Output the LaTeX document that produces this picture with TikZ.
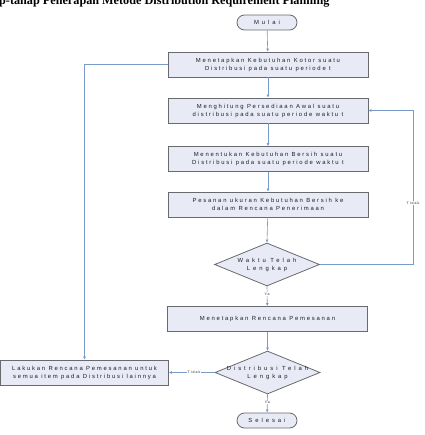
\documentclass[tikz,border=0pt]{standalone}
\usepackage{fontspec}
\setmainfont{Liberation Serif}
\newfontfamily\boxfont[LetterSpace=30]{Liberation Sans}
\newfontfamily\wideboxfont[LetterSpace=50]{Liberation Sans}
\usetikzlibrary{shapes.geometric,arrows.meta}
\definecolor{boxfill}{RGB}{232,234,245}
\definecolor{boxborder}{RGB}{105,105,110}
\definecolor{linecol}{RGB}{120,155,200}
\definecolor{textgray}{RGB}{30,30,35}
\begin{document}
\begin{tikzpicture}[x=1pt,y=-1pt,
  txt/.style={font=\boxfont\fontsize{5.9}{8}\selectfont, text=textgray, align=center},
  dtxt/.style={font=\wideboxfont\fontsize{5.9}{8}\selectfont, text=textgray, align=center},
  proc/.style={txt, draw=boxborder, fill=boxfill, line width=0.8pt, minimum width=200pt, minimum height=25pt, inner sep=0pt},
  term/.style={dtxt, draw=boxborder, fill=boxfill, line width=0.8pt, minimum width=60pt, minimum height=15pt, rounded corners=7.5pt, inner sep=0pt},
  dec/.style={diamond, draw=boxborder, fill=boxfill, line width=0.8pt, minimum width=105pt, minimum height=43pt, inner sep=0pt},
  conn/.style={draw=linecol, line width=0.6pt},
  arr/.style={conn, -{Latex[length=3pt,width=3pt]}},
  lbl/.style={font=\boxfont\fontsize{3.5}{4}\selectfont, text=textgray, fill=white, inner sep=0.6pt}
]
\useasboundingbox (0,0) rectangle (424,435);
\node[anchor=base west, inner sep=0pt, font=\bfseries\fontsize{12.2}{14}\selectfont] (title) at (-1,5) {p-tahap Penerapan Metode Distribution Requirement Planning};

\node[term] (mulai) at (267,22.5) {Mulai};
\node[proc] (b1) at (268,64.5) {Menetapkan Kebutuhan Kotor suatu\\Distribusi pada suatu periode t};
\node[proc] (b2) at (268,110.5) {Menghitung Persediaan Awal suatu\\distribusi pada suatu periode waktu t};
\node[proc] (b3) at (268,159) {Menentukan Kebutuhan Bersih suatu\\Distribusi pada suatu periode waktu t};
\node[proc] (b4) at (268,204.5) {Pesanan ukuran Kebutuhan Bersih ke\\dalam Rencana Penerimaan};
\node[dec] (d1) at (267,264.5) {};
\node[dtxt] (d1t) at (d1) {Waktu Telah\\Lengkap};
\node[proc] (b5) at (267.5,319) {Menetapkan Rencana Pemesanan};
\node[dec] (d2) at (267.5,372.5) {};
\node[dtxt] (d2t) at (d2) {Distribusi Telah\\Lengkap};
\node[proc, minimum width=168pt] (lk) at (84.5,372.5) {Lakukan Rencana Pemesanan untuk\\semua item pada Distribusi lainnya};
\node[term] (selesai) at (267,420.5) {Selesai};

\coordinate (r1) at (413,264.5);
\coordinate (r2) at (413,110.5);

\draw[arr] (mulai) -- (b1);
\draw[arr] (b1) -- (b2);
\draw[arr] (b2) -- (b3);
\draw[arr] (b3) -- (b4);
\draw[arr] (b4) -- (d1.north);
\draw[arr] (d1.south) -- node[lbl, pos=0.4] {Ya} (b5);
\draw[arr] (b5) -- (d2.north);
\draw[arr] (d2.south) -- node[lbl, pos=0.45] {Ya} (selesai);
\draw[arr] (d2.west) -- node[lbl, pos=0.45] {Tidak} (lk);
\draw[conn] (d1.east) -- (r1) -- node[lbl, pos=0.4] {Tidak} (r2);
\draw[arr] (r2) -- (b2.east);
\draw[arr] (b1.west) -| (lk.north);
\end{tikzpicture}
\end{document}
